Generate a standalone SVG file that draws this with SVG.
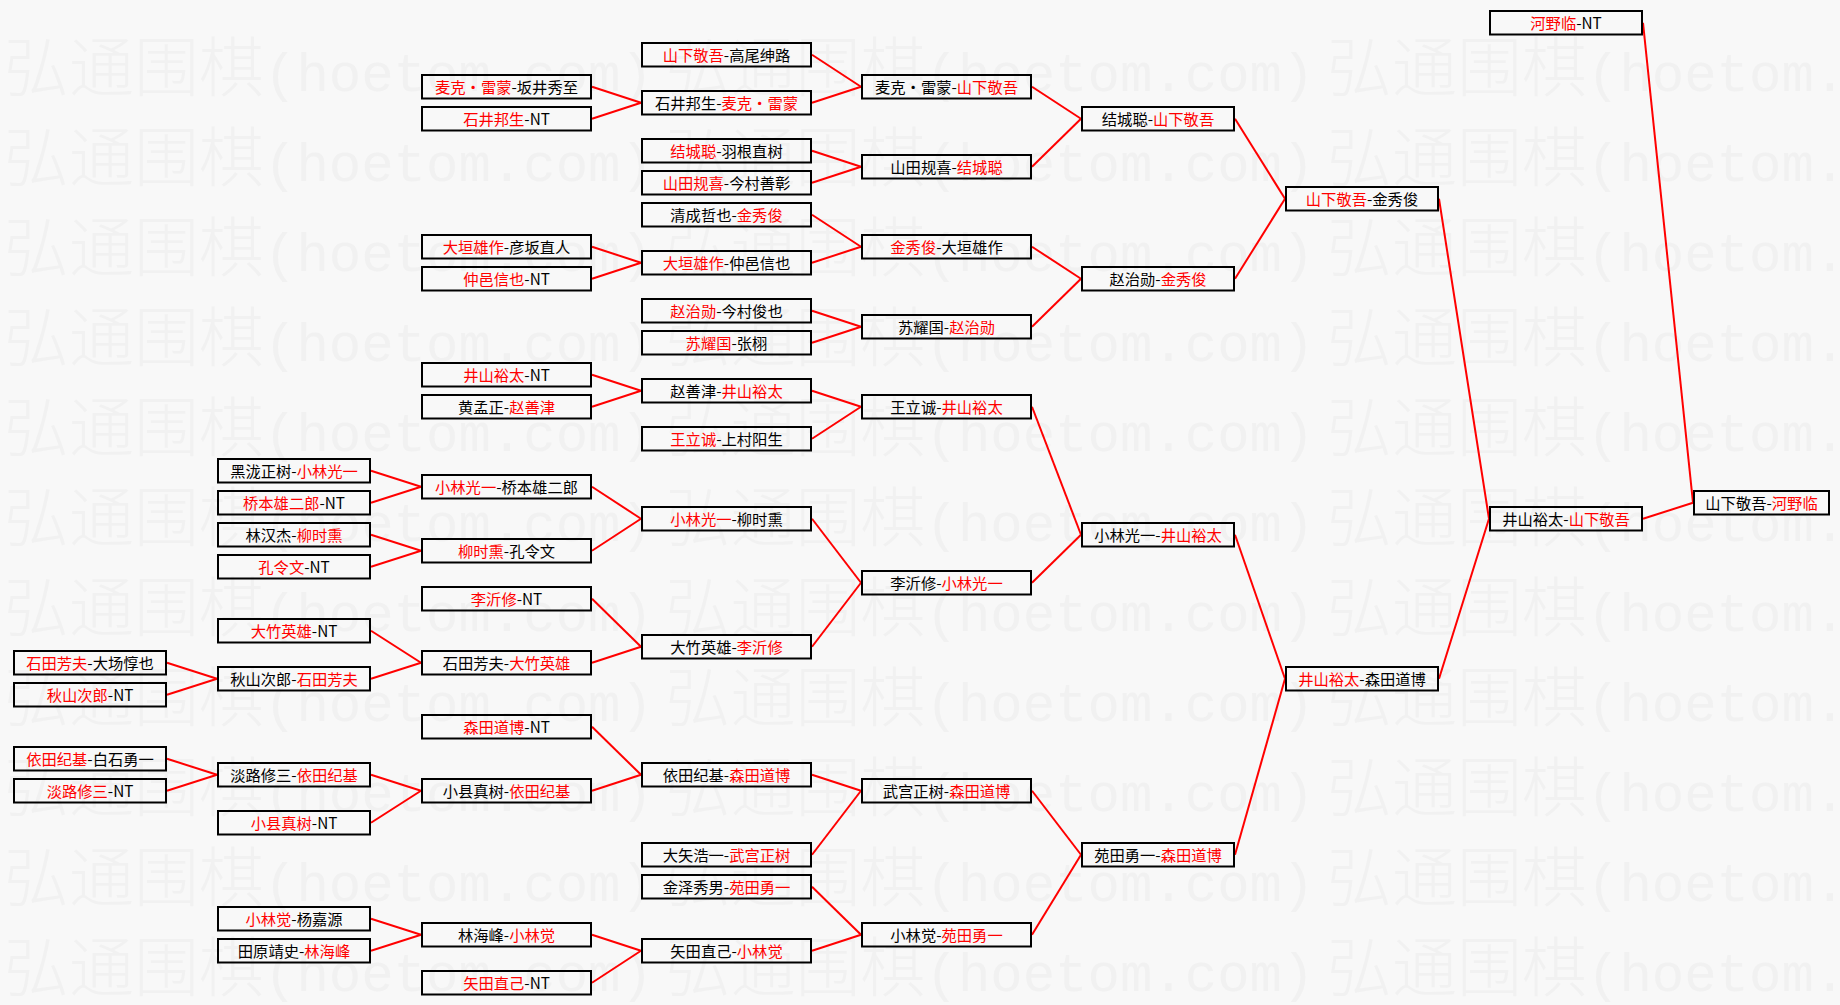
<svg xmlns="http://www.w3.org/2000/svg" xmlns:xlink="http://www.w3.org/1999/xlink" width="1840" height="1005" viewBox="0 0 1840 1005">
<style>
.bg{fill:#f8f8f8}
.wm{font-family:"Noto Sans CJK SC",sans-serif;font-size:65px;font-weight:300;fill:#f1f1f1}
.wl{font-family:"Liberation Mono",monospace;font-size:54px;fill:#f1f1f1}
.b{fill:none;stroke:#000;stroke-width:2}
.t{font-family:"Noto Sans CJK SC",sans-serif;font-size:15.3px;fill:#000;text-anchor:middle}
.r{fill:#f00}
#connectors line{stroke:#f00;stroke-width:2}
</style>
<defs>
<g id="wmt"><text class="wm" x="0" y="0">弘通围棋</text><text class="wl" x="260" y="0">(hoetom.com)</text></g>
<rect id="bw" class="b" x="1" y="1" width="152" height="23.5"/>
<rect id="bl" class="b" x="1" y="1" width="169" height="23.5"/>
<rect id="bs" class="b" x="1" y="1" width="135" height="23.5"/>
</defs>
<rect class="bg" x="0" y="0" width="1840" height="1005"/>
<g id="watermark">
<use xlink:href="#wmt" x="4" y="91"/><use xlink:href="#wmt" x="665.5" y="91"/><use xlink:href="#wmt" x="1327" y="91"/>
<use xlink:href="#wmt" x="4" y="181"/><use xlink:href="#wmt" x="665.5" y="181"/><use xlink:href="#wmt" x="1327" y="181"/>
<use xlink:href="#wmt" x="4" y="271"/><use xlink:href="#wmt" x="665.5" y="271"/><use xlink:href="#wmt" x="1327" y="271"/>
<use xlink:href="#wmt" x="4" y="361"/><use xlink:href="#wmt" x="665.5" y="361"/><use xlink:href="#wmt" x="1327" y="361"/>
<use xlink:href="#wmt" x="4" y="451"/><use xlink:href="#wmt" x="665.5" y="451"/><use xlink:href="#wmt" x="1327" y="451"/>
<use xlink:href="#wmt" x="4" y="541"/><use xlink:href="#wmt" x="665.5" y="541"/><use xlink:href="#wmt" x="1327" y="541"/>
<use xlink:href="#wmt" x="4" y="631"/><use xlink:href="#wmt" x="665.5" y="631"/><use xlink:href="#wmt" x="1327" y="631"/>
<use xlink:href="#wmt" x="4" y="721"/><use xlink:href="#wmt" x="665.5" y="721"/><use xlink:href="#wmt" x="1327" y="721"/>
<use xlink:href="#wmt" x="4" y="811"/><use xlink:href="#wmt" x="665.5" y="811"/><use xlink:href="#wmt" x="1327" y="811"/>
<use xlink:href="#wmt" x="4" y="901"/><use xlink:href="#wmt" x="665.5" y="901"/><use xlink:href="#wmt" x="1327" y="901"/>
<use xlink:href="#wmt" x="4" y="991"/><use xlink:href="#wmt" x="665.5" y="991"/><use xlink:href="#wmt" x="1327" y="991"/>
</g>
<g id="connectors">
<line x1="812" y1="54.75" x2="861" y2="86.75"/>
<line x1="592" y1="86.75" x2="641" y2="102.75"/>
<line x1="592" y1="118.75" x2="641" y2="102.75"/>
<line x1="812" y1="102.75" x2="861" y2="86.75"/>
<line x1="1032" y1="86.75" x2="1081" y2="118.75"/>
<line x1="812" y1="150.75" x2="861" y2="166.75"/>
<line x1="812" y1="182.75" x2="861" y2="166.75"/>
<line x1="1032" y1="166.75" x2="1081" y2="118.75"/>
<line x1="1235" y1="118.75" x2="1285" y2="198.75"/>
<line x1="812" y1="214.75" x2="861" y2="246.75"/>
<line x1="592" y1="246.75" x2="641" y2="262.75"/>
<line x1="592" y1="278.75" x2="641" y2="262.75"/>
<line x1="812" y1="262.75" x2="861" y2="246.75"/>
<line x1="1032" y1="246.75" x2="1081" y2="278.75"/>
<line x1="812" y1="310.75" x2="861" y2="326.75"/>
<line x1="812" y1="342.75" x2="861" y2="326.75"/>
<line x1="1032" y1="326.75" x2="1081" y2="278.75"/>
<line x1="1235" y1="278.75" x2="1285" y2="198.75"/>
<line x1="1439" y1="198.75" x2="1489" y2="518.75"/>
<line x1="592" y1="374.75" x2="641" y2="390.75"/>
<line x1="592" y1="406.75" x2="641" y2="390.75"/>
<line x1="812" y1="390.75" x2="861" y2="406.75"/>
<line x1="812" y1="438.75" x2="861" y2="406.75"/>
<line x1="1032" y1="406.75" x2="1081" y2="534.75"/>
<line x1="371" y1="470.75" x2="421" y2="486.75"/>
<line x1="371" y1="502.75" x2="421" y2="486.75"/>
<line x1="592" y1="486.75" x2="641" y2="518.75"/>
<line x1="371" y1="534.75" x2="421" y2="550.75"/>
<line x1="371" y1="566.75" x2="421" y2="550.75"/>
<line x1="592" y1="550.75" x2="641" y2="518.75"/>
<line x1="812" y1="518.75" x2="861" y2="582.75"/>
<line x1="592" y1="598.75" x2="641" y2="646.75"/>
<line x1="371" y1="630.75" x2="421" y2="662.75"/>
<line x1="167" y1="662.75" x2="217" y2="678.75"/>
<line x1="167" y1="694.75" x2="217" y2="678.75"/>
<line x1="371" y1="678.75" x2="421" y2="662.75"/>
<line x1="592" y1="662.75" x2="641" y2="646.75"/>
<line x1="812" y1="646.75" x2="861" y2="582.75"/>
<line x1="1032" y1="582.75" x2="1081" y2="534.75"/>
<line x1="1235" y1="534.75" x2="1285" y2="678.75"/>
<line x1="592" y1="726.75" x2="641" y2="774.75"/>
<line x1="167" y1="758.75" x2="217" y2="774.75"/>
<line x1="167" y1="790.75" x2="217" y2="774.75"/>
<line x1="371" y1="774.75" x2="421" y2="790.75"/>
<line x1="371" y1="822.75" x2="421" y2="790.75"/>
<line x1="592" y1="790.75" x2="641" y2="774.75"/>
<line x1="812" y1="774.75" x2="861" y2="790.75"/>
<line x1="812" y1="854.75" x2="861" y2="790.75"/>
<line x1="1032" y1="790.75" x2="1081" y2="854.75"/>
<line x1="812" y1="886.75" x2="861" y2="934.75"/>
<line x1="371" y1="918.75" x2="421" y2="934.75"/>
<line x1="371" y1="950.75" x2="421" y2="934.75"/>
<line x1="592" y1="934.75" x2="641" y2="950.75"/>
<line x1="592" y1="982.75" x2="641" y2="950.75"/>
<line x1="812" y1="950.75" x2="861" y2="934.75"/>
<line x1="1032" y1="934.75" x2="1081" y2="854.75"/>
<line x1="1235" y1="854.75" x2="1285" y2="678.75"/>
<line x1="1439" y1="678.75" x2="1489" y2="518.75"/>
<line x1="1643" y1="518.75" x2="1693" y2="502.75"/>
<line x1="1643" y1="22.75" x2="1693" y2="502.75"/>
</g>
<g id="n1" transform="translate(1489,10)"><use xlink:href="#bw"/><text class="t" x="77" y="18.5"><tspan class="r">河野临</tspan>-NT</text></g>
<g id="n2" transform="translate(641,42)"><use xlink:href="#bl"/><text class="t" x="85.5" y="18.5"><tspan class="r">山下敬吾</tspan>-高尾绅路</text></g>
<g id="n3" transform="translate(421,74)"><use xlink:href="#bl"/><text class="t" x="85.5" y="18.5"><tspan class="r">麦克·雷蒙</tspan>-坂井秀至</text></g>
<g id="n4" transform="translate(861,74)"><use xlink:href="#bl"/><text class="t" x="85.5" y="18.5">麦克·雷蒙-<tspan class="r">山下敬吾</tspan></text></g>
<g id="n5" transform="translate(641,90)"><use xlink:href="#bl"/><text class="t" x="85.5" y="18.5">石井邦生-<tspan class="r">麦克·雷蒙</tspan></text></g>
<g id="n6" transform="translate(421,106)"><use xlink:href="#bl"/><text class="t" x="85.5" y="18.5"><tspan class="r">石井邦生</tspan>-NT</text></g>
<g id="n7" transform="translate(1081,106)"><use xlink:href="#bw"/><text class="t" x="77" y="18.5">结城聪-<tspan class="r">山下敬吾</tspan></text></g>
<g id="n8" transform="translate(641,138)"><use xlink:href="#bl"/><text class="t" x="85.5" y="18.5"><tspan class="r">结城聪</tspan>-羽根直树</text></g>
<g id="n9" transform="translate(861,154)"><use xlink:href="#bl"/><text class="t" x="85.5" y="18.5">山田规喜-<tspan class="r">结城聪</tspan></text></g>
<g id="n10" transform="translate(641,170)"><use xlink:href="#bl"/><text class="t" x="85.5" y="18.5"><tspan class="r">山田规喜</tspan>-今村善彰</text></g>
<g id="n11" transform="translate(1285,186)"><use xlink:href="#bw"/><text class="t" x="77" y="18.5"><tspan class="r">山下敬吾</tspan>-金秀俊</text></g>
<g id="n12" transform="translate(641,202)"><use xlink:href="#bl"/><text class="t" x="85.5" y="18.5">清成哲也-<tspan class="r">金秀俊</tspan></text></g>
<g id="n13" transform="translate(421,234)"><use xlink:href="#bl"/><text class="t" x="85.5" y="18.5"><tspan class="r">大垣雄作</tspan>-彦坂直人</text></g>
<g id="n14" transform="translate(861,234)"><use xlink:href="#bl"/><text class="t" x="85.5" y="18.5"><tspan class="r">金秀俊</tspan>-大垣雄作</text></g>
<g id="n15" transform="translate(641,250)"><use xlink:href="#bl"/><text class="t" x="85.5" y="18.5"><tspan class="r">大垣雄作</tspan>-仲邑信也</text></g>
<g id="n16" transform="translate(421,266)"><use xlink:href="#bl"/><text class="t" x="85.5" y="18.5"><tspan class="r">仲邑信也</tspan>-NT</text></g>
<g id="n17" transform="translate(1081,266)"><use xlink:href="#bw"/><text class="t" x="77" y="18.5">赵治勋-<tspan class="r">金秀俊</tspan></text></g>
<g id="n18" transform="translate(641,298)"><use xlink:href="#bl"/><text class="t" x="85.5" y="18.5"><tspan class="r">赵治勋</tspan>-今村俊也</text></g>
<g id="n19" transform="translate(861,314)"><use xlink:href="#bl"/><text class="t" x="85.5" y="18.5">苏耀国-<tspan class="r">赵治勋</tspan></text></g>
<g id="n20" transform="translate(641,330)"><use xlink:href="#bl"/><text class="t" x="85.5" y="18.5"><tspan class="r">苏耀国</tspan>-张栩</text></g>
<g id="n21" transform="translate(421,362)"><use xlink:href="#bl"/><text class="t" x="85.5" y="18.5"><tspan class="r">井山裕太</tspan>-NT</text></g>
<g id="n22" transform="translate(641,378)"><use xlink:href="#bl"/><text class="t" x="85.5" y="18.5">赵善津-<tspan class="r">井山裕太</tspan></text></g>
<g id="n23" transform="translate(421,394)"><use xlink:href="#bl"/><text class="t" x="85.5" y="18.5">黄孟正-<tspan class="r">赵善津</tspan></text></g>
<g id="n24" transform="translate(861,394)"><use xlink:href="#bl"/><text class="t" x="85.5" y="18.5">王立诚-<tspan class="r">井山裕太</tspan></text></g>
<g id="n25" transform="translate(641,426)"><use xlink:href="#bl"/><text class="t" x="85.5" y="18.5"><tspan class="r">王立诚</tspan>-上村阳生</text></g>
<g id="n26" transform="translate(217,458)"><use xlink:href="#bw"/><text class="t" x="77" y="18.5">黑泷正树-<tspan class="r">小林光一</tspan></text></g>
<g id="n27" transform="translate(421,474)"><use xlink:href="#bl"/><text class="t" x="85.5" y="18.5"><tspan class="r">小林光一</tspan>-桥本雄二郎</text></g>
<g id="n28" transform="translate(217,490)"><use xlink:href="#bw"/><text class="t" x="77" y="18.5"><tspan class="r">桥本雄二郎</tspan>-NT</text></g>
<g id="n29" transform="translate(1693,490)"><use xlink:href="#bs"/><text class="t" x="68.5" y="18.5">山下敬吾-<tspan class="r">河野临</tspan></text></g>
<g id="n30" transform="translate(641,506)"><use xlink:href="#bl"/><text class="t" x="85.5" y="18.5"><tspan class="r">小林光一</tspan>-柳时熏</text></g>
<g id="n31" transform="translate(1489,506)"><use xlink:href="#bw"/><text class="t" x="77" y="18.5">井山裕太-<tspan class="r">山下敬吾</tspan></text></g>
<g id="n32" transform="translate(217,522)"><use xlink:href="#bw"/><text class="t" x="77" y="18.5">林汉杰-<tspan class="r">柳时熏</tspan></text></g>
<g id="n33" transform="translate(1081,522)"><use xlink:href="#bw"/><text class="t" x="77" y="18.5">小林光一-<tspan class="r">井山裕太</tspan></text></g>
<g id="n34" transform="translate(421,538)"><use xlink:href="#bl"/><text class="t" x="85.5" y="18.5"><tspan class="r">柳时熏</tspan>-孔令文</text></g>
<g id="n35" transform="translate(217,554)"><use xlink:href="#bw"/><text class="t" x="77" y="18.5"><tspan class="r">孔令文</tspan>-NT</text></g>
<g id="n36" transform="translate(861,570)"><use xlink:href="#bl"/><text class="t" x="85.5" y="18.5">李沂修-<tspan class="r">小林光一</tspan></text></g>
<g id="n37" transform="translate(421,586)"><use xlink:href="#bl"/><text class="t" x="85.5" y="18.5"><tspan class="r">李沂修</tspan>-NT</text></g>
<g id="n38" transform="translate(217,618)"><use xlink:href="#bw"/><text class="t" x="77" y="18.5"><tspan class="r">大竹英雄</tspan>-NT</text></g>
<g id="n39" transform="translate(641,634)"><use xlink:href="#bl"/><text class="t" x="85.5" y="18.5">大竹英雄-<tspan class="r">李沂修</tspan></text></g>
<g id="n40" transform="translate(13,650)"><use xlink:href="#bw"/><text class="t" x="77" y="18.5"><tspan class="r">石田芳夫</tspan>-大场惇也</text></g>
<g id="n41" transform="translate(421,650)"><use xlink:href="#bl"/><text class="t" x="85.5" y="18.5">石田芳夫-<tspan class="r">大竹英雄</tspan></text></g>
<g id="n42" transform="translate(217,666)"><use xlink:href="#bw"/><text class="t" x="77" y="18.5">秋山次郎-<tspan class="r">石田芳夫</tspan></text></g>
<g id="n43" transform="translate(1285,666)"><use xlink:href="#bw"/><text class="t" x="77" y="18.5"><tspan class="r">井山裕太</tspan>-森田道博</text></g>
<g id="n44" transform="translate(13,682)"><use xlink:href="#bw"/><text class="t" x="77" y="18.5"><tspan class="r">秋山次郎</tspan>-NT</text></g>
<g id="n45" transform="translate(421,714)"><use xlink:href="#bl"/><text class="t" x="85.5" y="18.5"><tspan class="r">森田道博</tspan>-NT</text></g>
<g id="n46" transform="translate(13,746)"><use xlink:href="#bw"/><text class="t" x="77" y="18.5"><tspan class="r">依田纪基</tspan>-白石勇一</text></g>
<g id="n47" transform="translate(217,762)"><use xlink:href="#bw"/><text class="t" x="77" y="18.5">淡路修三-<tspan class="r">依田纪基</tspan></text></g>
<g id="n48" transform="translate(641,762)"><use xlink:href="#bl"/><text class="t" x="85.5" y="18.5">依田纪基-<tspan class="r">森田道博</tspan></text></g>
<g id="n49" transform="translate(13,778)"><use xlink:href="#bw"/><text class="t" x="77" y="18.5"><tspan class="r">淡路修三</tspan>-NT</text></g>
<g id="n50" transform="translate(421,778)"><use xlink:href="#bl"/><text class="t" x="85.5" y="18.5">小县真树-<tspan class="r">依田纪基</tspan></text></g>
<g id="n51" transform="translate(861,778)"><use xlink:href="#bl"/><text class="t" x="85.5" y="18.5">武宫正树-<tspan class="r">森田道博</tspan></text></g>
<g id="n52" transform="translate(217,810)"><use xlink:href="#bw"/><text class="t" x="77" y="18.5"><tspan class="r">小县真树</tspan>-NT</text></g>
<g id="n53" transform="translate(641,842)"><use xlink:href="#bl"/><text class="t" x="85.5" y="18.5">大矢浩一-<tspan class="r">武宫正树</tspan></text></g>
<g id="n54" transform="translate(1081,842)"><use xlink:href="#bw"/><text class="t" x="77" y="18.5">苑田勇一-<tspan class="r">森田道博</tspan></text></g>
<g id="n55" transform="translate(641,874)"><use xlink:href="#bl"/><text class="t" x="85.5" y="18.5">金泽秀男-<tspan class="r">苑田勇一</tspan></text></g>
<g id="n56" transform="translate(217,906)"><use xlink:href="#bw"/><text class="t" x="77" y="18.5"><tspan class="r">小林觉</tspan>-杨嘉源</text></g>
<g id="n57" transform="translate(421,922)"><use xlink:href="#bl"/><text class="t" x="85.5" y="18.5">林海峰-<tspan class="r">小林觉</tspan></text></g>
<g id="n58" transform="translate(861,922)"><use xlink:href="#bl"/><text class="t" x="85.5" y="18.5">小林觉-<tspan class="r">苑田勇一</tspan></text></g>
<g id="n59" transform="translate(217,938)"><use xlink:href="#bw"/><text class="t" x="77" y="18.5">田原靖史-<tspan class="r">林海峰</tspan></text></g>
<g id="n60" transform="translate(641,938)"><use xlink:href="#bl"/><text class="t" x="85.5" y="18.5">矢田直己-<tspan class="r">小林觉</tspan></text></g>
<g id="n61" transform="translate(421,970)"><use xlink:href="#bl"/><text class="t" x="85.5" y="18.5"><tspan class="r">矢田直己</tspan>-NT</text></g>
</svg>
